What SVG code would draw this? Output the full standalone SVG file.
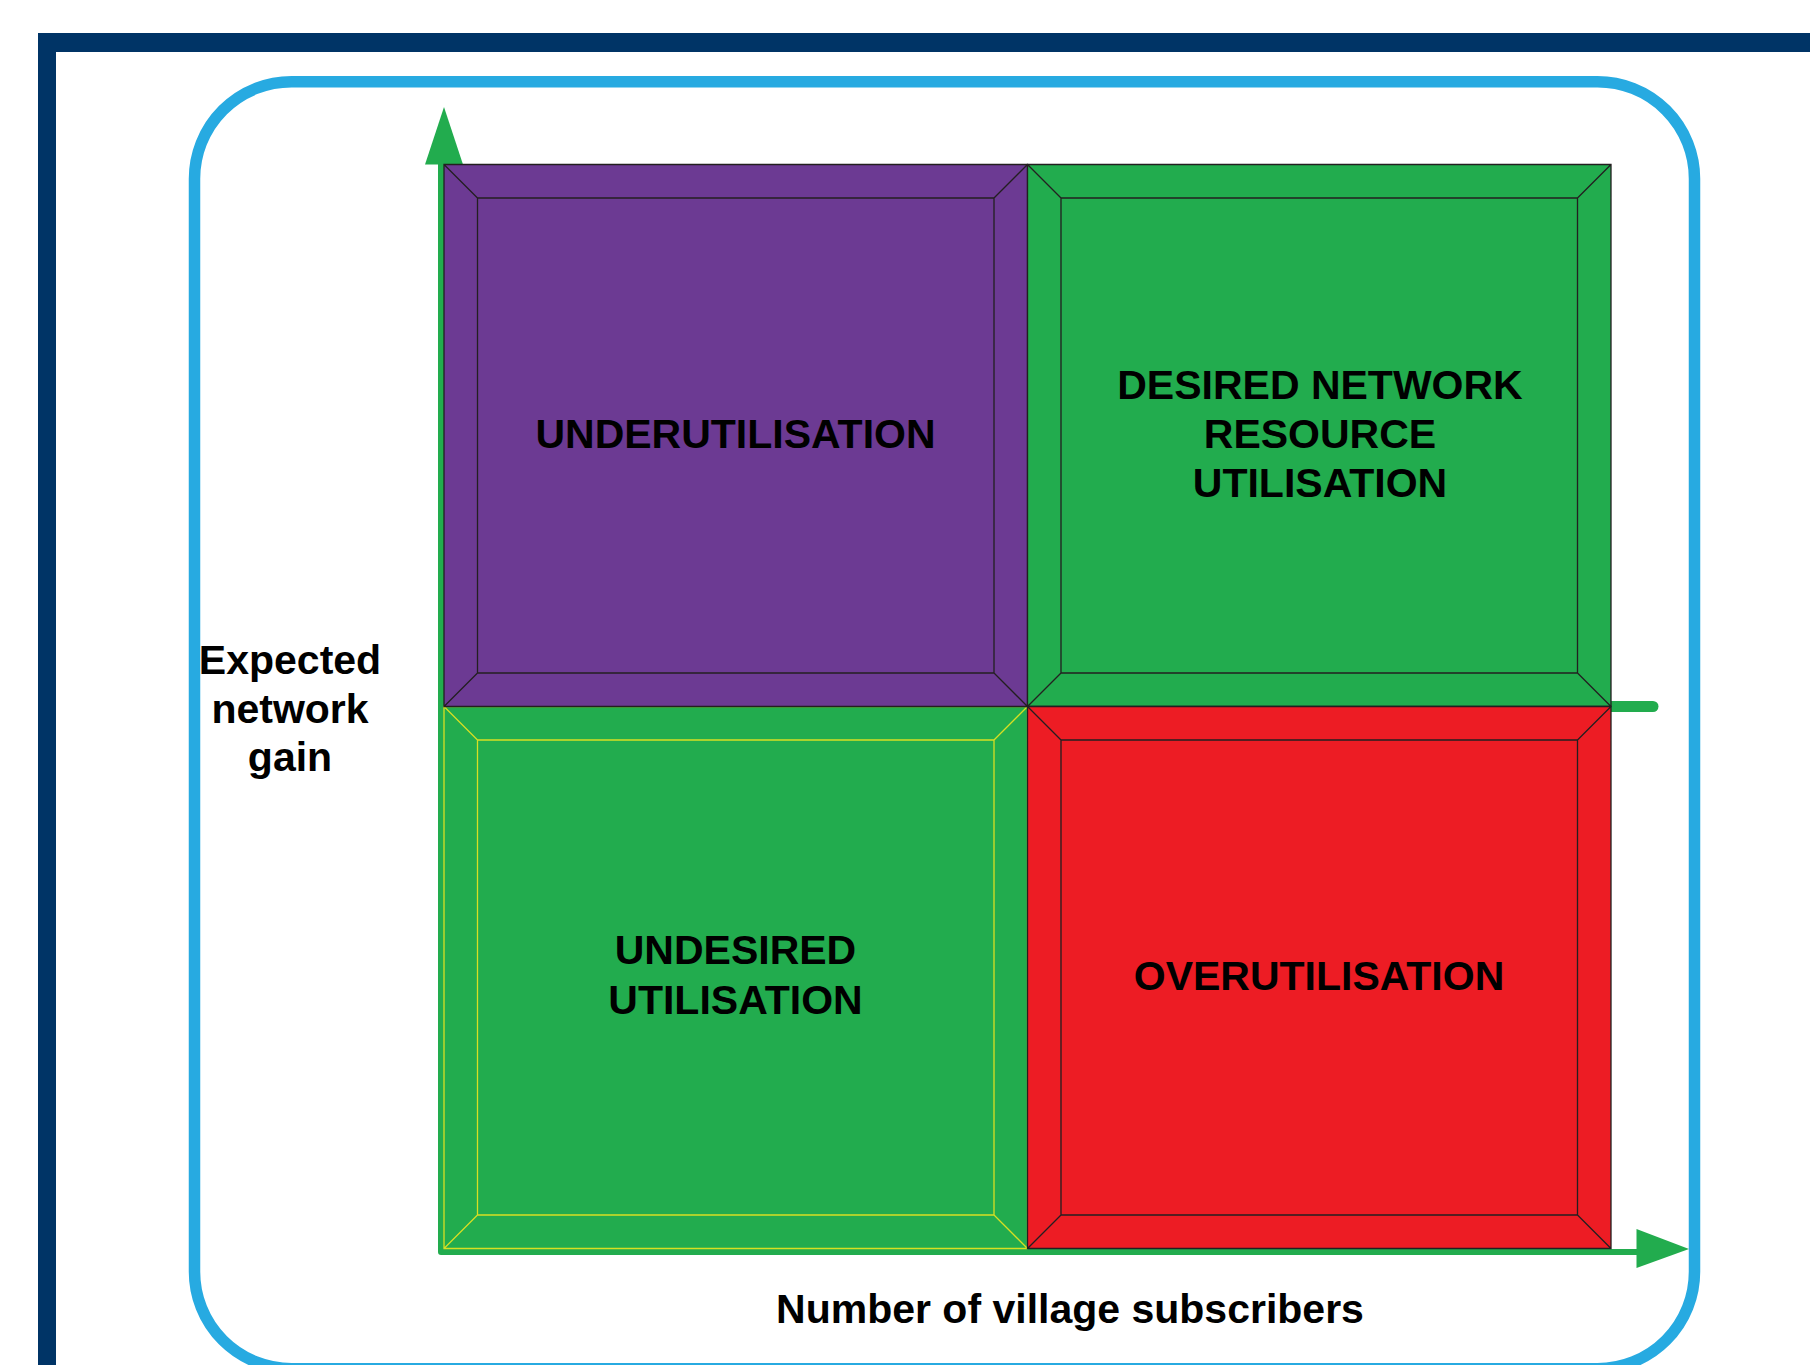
<svg xmlns="http://www.w3.org/2000/svg" width="1810" height="1365" viewBox="0 0 1810 1365">
  <style>
    .lbl { font-family: "Liberation Sans", Arial, sans-serif; font-weight: bold; font-size: 41px; fill: #000; text-anchor: middle; }
    .ax { font-size: 41px; }
    .bevel { stroke: #231f20; stroke-width: 1.3; fill: none; }
    .bevel-y { stroke: #d7df23; stroke-width: 1.3; fill: none; }
    .axis { stroke: #22ac4e; stroke-width: 6; fill: none; stroke-linejoin: round; stroke-linecap: round; }
    .arrowhead { fill: #22ac4e; }
  </style>

  <rect x="0" y="0" width="1810" height="1365" fill="#ffffff"/>

  <g id="frame">
    <rect x="38" y="33" width="1772" height="19" fill="#003466"/>
    <rect x="38" y="33" width="18" height="1332" fill="#003466"/>
  </g>

  <g id="panel">
    <rect x="194.5" y="81.7" width="1500" height="1287" rx="97" ry="97" fill="none" stroke="#27aae1" stroke-width="11.5"/>
  </g>

  <g id="connectors">
    <path class="axis" d="M441 164 L441 1252 L1640 1252"/>
    <polygon class="arrowhead" points="444,107 425,164.5 463,164.5"/>
    <polygon class="arrowhead" points="1689,1249 1636.5,1229 1636.5,1268"/>
    <path d="M1600 706.5 L1653 706.5" stroke="#22ac4e" stroke-width="11" stroke-linecap="round" fill="none"/>
  </g>

  <g id="undesired">
    <rect x="444" y="706.5" width="583.5" height="542" fill="#22ac4e"/>
    <path class="bevel-y" d="M444 706.5 H1027.5 V1248.5 H444 Z M477.5 740 H994 V1215 H477.5 Z M444 706.5 L477.5 740 M1027.5 706.5 L994 740 M1027.5 1248.5 L994 1215 M444 1248.5 L477.5 1215"/>
    <text class="lbl" x="735.5" y="964">UNDESIRED</text>
    <text class="lbl" x="735.5" y="1013.5">UTILISATION</text>
  </g>

  <g id="underutilisation">
    <rect x="444" y="164.5" width="583.5" height="542" fill="#6c3a93"/>
    <path class="bevel" d="M444 164.5 H1027.5 V706.5 H444 Z M477.5 198 H994 V673 H477.5 Z M444 164.5 L477.5 198 M1027.5 164.5 L994 198 M1027.5 706.5 L994 673 M444 706.5 L477.5 673"/>
    <text class="lbl" x="735.5" y="448">UNDERUTILISATION</text>
  </g>

  <g id="desired">
    <rect x="1027.5" y="164.5" width="583.5" height="542" fill="#22ac4e"/>
    <path class="bevel" d="M1027.5 164.5 H1611 V706.5 H1027.5 Z M1061 198 H1577.5 V673 H1061 Z M1027.5 164.5 L1061 198 M1611 164.5 L1577.5 198 M1611 706.5 L1577.5 673 M1027.5 706.5 L1061 673"/>
    <text class="lbl" x="1320" y="398.5">DESIRED NETWORK</text>
    <text class="lbl" x="1320" y="448">RESOURCE</text>
    <text class="lbl" x="1320" y="497">UTILISATION</text>
  </g>

  <g id="overutilisation">
    <rect x="1027.5" y="706.5" width="583.5" height="542" fill="#ed1c24"/>
    <path class="bevel" d="M1027.5 706.5 H1611 V1248.5 H1027.5 Z M1061 740 H1577.5 V1215 H1061 Z M1027.5 706.5 L1061 740 M1611 706.5 L1577.5 740 M1611 1248.5 L1577.5 1215 M1027.5 1248.5 L1061 1215"/>
    <text class="lbl" x="1319" y="989.5">OVERUTILISATION</text>
  </g>

  <g id="y-axis-label">
    <text class="lbl ax" x="290" y="673.5">Expected</text>
    <text class="lbl ax" x="290" y="722.5">network</text>
    <text class="lbl ax" x="290" y="771">gain</text>
  </g>

  <g id="x-axis-label">
    <text class="lbl ax" x="1070" y="1323">Number of village subscribers</text>
  </g>
</svg>
